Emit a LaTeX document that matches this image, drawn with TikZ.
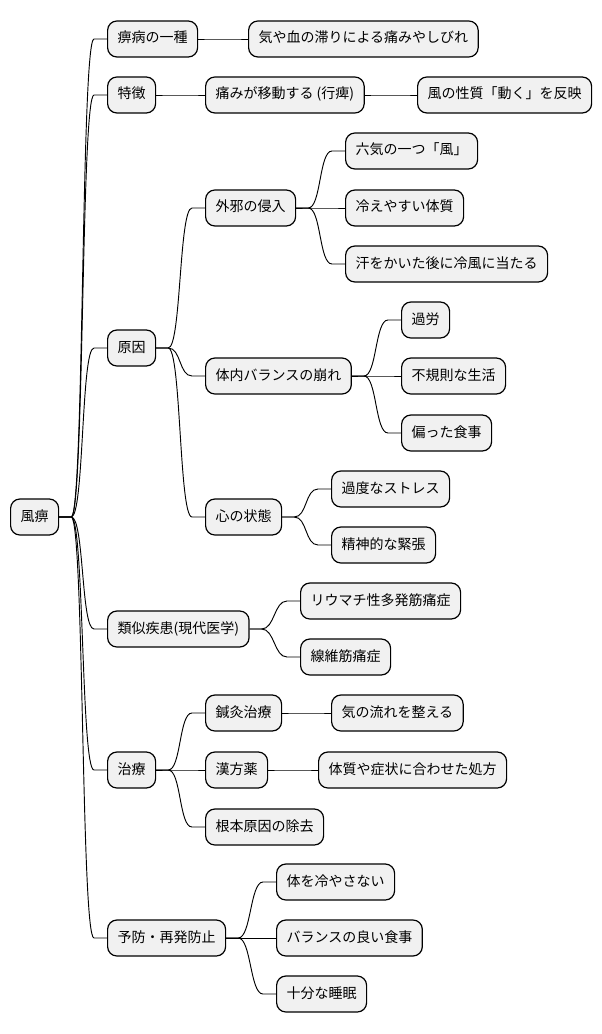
\documentclass[tikz,border=0pt]{standalone}
\usepackage{fontspec}
\usepackage{tikz}
\usetikzlibrary{calc}
\setmainfont{Noto Sans CJK JP}
\definecolor{nodegray}{RGB}{241,241,241}

\begin{document}
\begin{tikzpicture}[
  x=0.75pt, y=-0.75pt,
  topic/.style={rectangle, rounded corners=7pt, draw, line width=0.9pt, fill=nodegray,
                anchor=west, minimum height=27pt, inner xsep=7.5pt, inner ysep=0pt,
                text height=8pt, text depth=2pt, font=\fontsize{10.5}{12}\selectfont},
  link/.style={line width=0.7pt,
               to path={-- ++(12,0) .. controls +(13,0) and ($(\tikztotarget)+(-26,0)$)
                        .. ($(\tikztotarget)+(-13,0)$) -- (\tikztotarget)}}
]
\useasboundingbox (0,0) rectangle (602,1034);

% centre
\node[topic] (root) at (10,517) {風痹};

% first level
\node[topic] (kind)    at (107,39)  {痹病の一種};
\node[topic] (feat)    at (107,95)  {特徴};
\node[topic] (cause)   at (107,348) {原因};
\node[topic] (similar) at (107,629) {類似疾患(現代医学)};
\node[topic] (treat)   at (107,770) {治療};
\node[topic] (prevent) at (107,938) {予防・再発防止};

% second level
\node[topic] (stag)    at (248,39)  {気や血の滞りによる痛みやしびれ};
\node[topic] (move)    at (205,95)  {痛みが移動する (行痺)};
\node[topic] (invade)  at (205,208) {外邪の侵入};
\node[topic] (balance) at (205,376) {体内バランスの崩れ};
\node[topic] (mind)    at (205,517) {心の状態};
\node[topic] (pmr)     at (300,601) {リウマチ性多発筋痛症};
\node[topic] (fibro)   at (300,657) {線維筋痛症};
\node[topic] (acu)     at (205,713) {鍼灸治療};
\node[topic] (kampo)   at (205,770) {漢方薬};
\node[topic] (remove)  at (205,827) {根本原因の除去};
\node[topic] (warm)    at (276,882) {体を冷やさない};
\node[topic] (diet)    at (276,938) {バランスの良い食事};
\node[topic] (sleep)   at (276,994) {十分な睡眠};

% third level
\node[topic] (wind)    at (417,95)  {風の性質「動く」を反映};
\node[topic] (sixqi)   at (345,151) {六気の一つ「風」};
\node[topic] (cold)    at (345,208) {冷えやすい体質};
\node[topic] (sweat)   at (345,264) {汗をかいた後に冷風に当たる};
\node[topic] (fatigue) at (401,320) {過労};
\node[topic] (irreg)   at (401,376) {不規則な生活};
\node[topic] (meal)    at (401,433) {偏った食事};
\node[topic] (stress)  at (331,489) {過度なストレス};
\node[topic] (tension) at (331,545) {精神的な緊張};
\node[topic] (qi)      at (331,713) {気の流れを整える};
\node[topic] (formula) at (318,770) {体質や症状に合わせた処方};

% branches
\draw[link] (root.east) to (kind.west);
\draw[link] (root.east) to (feat.west);
\draw[link] (root.east) to (cause.west);
\draw[link] (root.east) to (similar.west);
\draw[link] (root.east) to (treat.west);
\draw[link] (root.east) to (prevent.west);

\draw[link] (kind.east) to (stag.west);
\draw[link] (feat.east) to (move.west);
\draw[link] (move.east) to (wind.west);

\draw[link] (cause.east) to (invade.west);
\draw[link] (cause.east) to (balance.west);
\draw[link] (cause.east) to (mind.west);
\draw[link] (invade.east) to (sixqi.west);
\draw[link] (invade.east) to (cold.west);
\draw[link] (invade.east) to (sweat.west);
\draw[link] (balance.east) to (fatigue.west);
\draw[link] (balance.east) to (irreg.west);
\draw[link] (balance.east) to (meal.west);
\draw[link] (mind.east) to (stress.west);
\draw[link] (mind.east) to (tension.west);

\draw[link] (similar.east) to (pmr.west);
\draw[link] (similar.east) to (fibro.west);

\draw[link] (treat.east) to (acu.west);
\draw[link] (treat.east) to (kampo.west);
\draw[link] (treat.east) to (remove.west);
\draw[link] (acu.east) to (qi.west);
\draw[link] (kampo.east) to (formula.west);

\draw[link] (prevent.east) to (warm.west);
\draw[link] (prevent.east) to (diet.west);
\draw[link] (prevent.east) to (sleep.west);

\end{tikzpicture}
\end{document}
